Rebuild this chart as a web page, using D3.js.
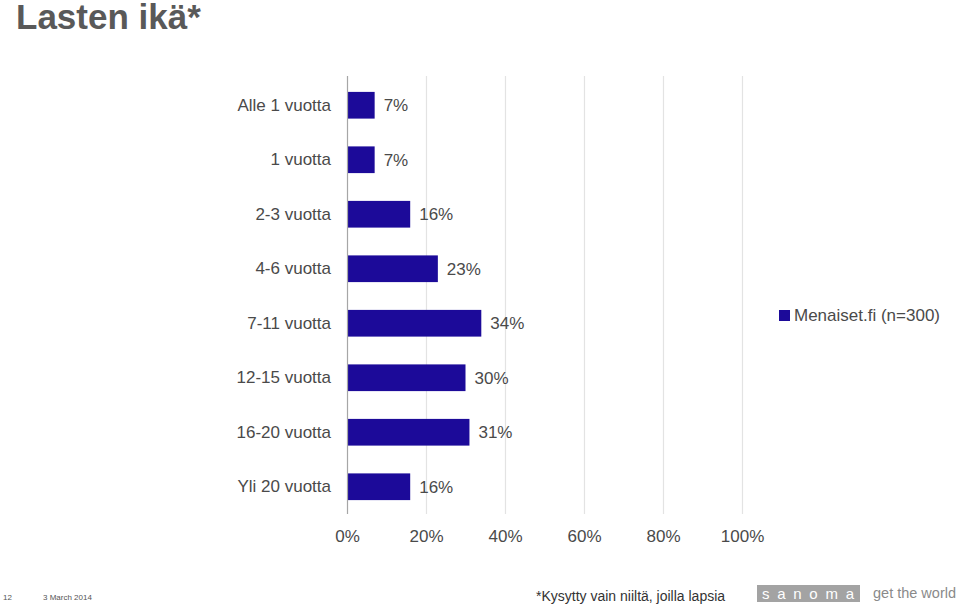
<!DOCTYPE html>
<html><head><meta charset="utf-8">
<script src="https://cdn.jsdelivr.net/npm/d3@7"></script>
<style>body{margin:0;background:#fff}svg{display:block;font-family:"Liberation Sans",Arial,sans-serif}</style>
</head><body><svg id="c" width="960" height="606"></svg>
<script>
const categories = ["Alle 1 vuotta","1 vuotta","2-3 vuotta","4-6 vuotta","7-11 vuotta","12-15 vuotta","16-20 vuotta","Yli 20 vuotta"];
const values = [7,7,16,23,34,30,31,16];
const ticks = [0,20,40,60,80,100];
const seriesName = "Menaiset.fi (n=300)";
const title = "Lasten ikä*";
const footnote = "*Kysytty vain niiltä, joilla lapsia";
const pageNo = "12";
const dateText = "3 March 2014";

const svg = d3.select("#c");
const barColor = "#1c0a99";
const textColor = "#4a4a4a";
const x = d3.scaleLinear().domain([0,100]).range([347,742]);
const y = d3.scaleBand().domain(categories).range([78,514]).paddingInner(0.51).paddingOuter(0.255);

// gridlines
svg.append("g").selectAll("line").data(ticks.slice(1)).join("line")
  .attr("x1",d=>x(d)+0.5).attr("x2",d=>x(d)+0.5).attr("y1",76).attr("y2",514)
  .attr("stroke","#e3e3e3").attr("stroke-width",1.2);

// x axis labels
const xa = svg.append("g").attr("transform","translate(0,514)")
  .call(d3.axisBottom(x).tickValues(ticks).tickFormat(d=>d+"%").tickSize(0).tickPadding(16));
xa.select(".domain").remove();
xa.selectAll("text").attr("font-size",17).attr("fill",textColor).attr("font-family","Liberation Sans, Arial, sans-serif");

// bars
svg.append("g").selectAll("rect").data(values).join("rect")
  .attr("x",x(0)).attr("y",(d,i)=>y(categories[i]))
  .attr("width",d=>x(d)-x(0)).attr("height",y.bandwidth()).attr("fill",barColor);

// value labels
svg.append("g").selectAll("text").data(values).join("text")
  .attr("x",d=>x(d)+9).attr("y",(d,i)=>y(categories[i])+y.bandwidth()/2)
  .attr("dy","0.36em").attr("font-size",17).attr("fill",textColor).text(d=>d+"%");

// y axis
const ya = svg.append("g").attr("transform",`translate(${x(0)},0)`)
  .call(d3.axisLeft(y).tickSize(0).tickPadding(16));
ya.select(".domain").remove();
ya.selectAll("text").attr("font-size",17).attr("fill",textColor).attr("font-family","Liberation Sans, Arial, sans-serif");
svg.append("line").attr("x1",x(0)+0.5).attr("x2",x(0)+0.5).attr("y1",76).attr("y2",514)
  .attr("stroke","#a6a6a6").attr("stroke-width",1.2);

// legend
svg.append("rect").attr("x",779).attr("y",310).attr("width",11).attr("height",11).attr("fill",barColor);
svg.append("text").attr("x",794).attr("y",321).attr("font-size",17).attr("fill",textColor).text(seriesName);

// title
svg.append("text").attr("x",16).attr("y",29).attr("font-size",35).attr("font-weight","bold").attr("fill","#595959").text(title);

// footer
svg.append("text").attr("x",3).attr("y",600).attr("font-size",8).attr("fill","#555").text(pageNo);
svg.append("text").attr("x",43).attr("y",600).attr("font-size",8).attr("fill","#555").text(dateText);
svg.append("text").attr("x",536).attr("y",601).attr("font-size",14).attr("fill","#333").text(footnote);
svg.append("rect").attr("x",757).attr("y",585).attr("width",103).attr("height",17).attr("fill","#a3a3a3");
svg.append("text").attr("x",762).attr("y",599).attr("font-size",15).attr("fill","#fff")
  .attr("textLength",92).attr("lengthAdjust","spacing").text("sanoma");
svg.append("text").attr("x",873).attr("y",598).attr("font-size",14.5).attr("fill","#8a8a8a").text("get the world");
</script></body></html>
